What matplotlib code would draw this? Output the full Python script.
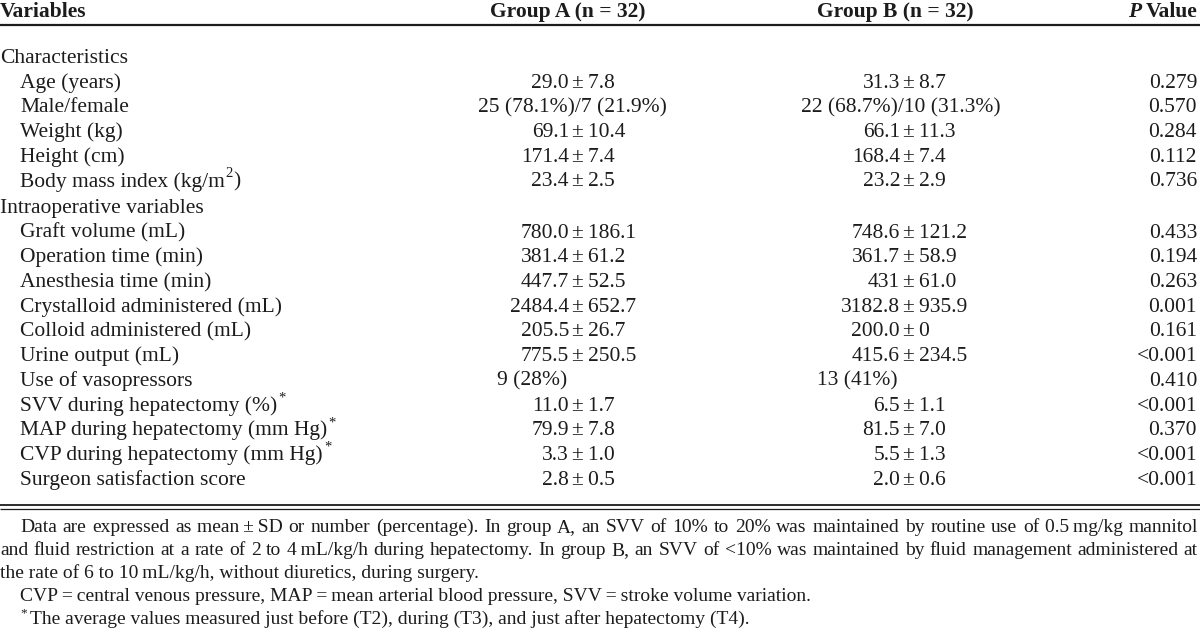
import matplotlib
matplotlib.use('Agg')
import matplotlib.pyplot as plt

plt.rcParams['font.family'] = ['Liberation Serif', 'DejaVu Serif']

TS = '\u2009'
PM = '\u00b1'

# ---------------- data ----------------
headers = ['Variables', 'Group A (n = 32)', 'Group B (n = 32)', 'Value']

variables = ['Characteristics', 'Age (years)', 'Male/female', 'Weight (kg)', 'Height (cm)',
             'Body mass index (kg/m', 'Intraoperative variables', 'Graft volume (mL)',
             'Operation time (min)', 'Anesthesia time (min)', 'Crystalloid administered (mL)',
             'Colloid administered (mL)', 'Urine output (mL)', 'Use of vasopressors',
             'SVV during hepatectomy (%)', 'MAP during hepatectomy (mm Hg)',
             'CVP during hepatectomy (mm Hg)', 'Surgeon satisfaction score']
var_suffix = ['', '', '', '', '', ')', '', '', '', '', '', '', '', '', '', '', '', '']
var_sup = ['', '', '', '', '', '2', '', '', '', '', '', '', '', '', '*', '*', '*', '']
is_section = [True, False, False, False, False, False, True, False, False, False, False,
              False, False, False, False, False, False, False]

group_a = ['', '29.0 ± 7.8', '25 (78.1%)/7 (21.9%)', '69.1 ± 10.4', '171.4 ± 7.4', '23.4 ± 2.5',
           '', '780.0 ± 186.1', '381.4 ± 61.2', '447.7 ± 52.5', '2484.4 ± 652.7', '205.5 ± 26.7',
           '775.5 ± 250.5', '9 (28%)', '11.0 ± 1.7', '79.9 ± 7.8', '3.3 ± 1.0', '2.8 ± 0.5']
group_b = ['', '31.3 ± 8.7', '22 (68.7%)/10 (31.3%)', '66.1 ± 11.3', '168.4 ± 7.4', '23.2 ± 2.9',
           '', '748.6 ± 121.2', '361.7 ± 58.9', '431 ± 61.0', '3182.8 ± 935.9', '200.0 ± 0',
           '415.6 ± 234.5', '13 (41%)', '6.5 ± 1.1', '81.5 ± 7.0', '5.5 ± 1.3', '2.0 ± 0.6']
p_values = ['', '0.279', '0.570', '0.284', '0.112', '0.736', '', '0.433', '0.194', '0.263',
            '0.001', '0.161', '<0.001', '0.410', '<0.001', '0.370', '<0.001', '<0.001']

footnote_justified = [
    'Data are expressed as mean' + TS + '±' + TS + 'SD or number (percentage). In group A, an SVV of 10% to 20% was maintained by routine use of 0.5' + TS + 'mg/kg mannitol',
    'and fluid restriction at a rate of 2 to 4' + TS + 'mL/kg/h during hepatectomy. In group B, an SVV of <10% was maintained by fluid management administered at',
]
footnote_plain = [
    'the rate of 6 to 10' + TS + 'mL/kg/h, without diuretics, during surgery.',
    'CVP' + TS + '=' + TS + 'central venous pressure, MAP' + TS + '=' + TS + 'mean arterial blood pressure, SVV' + TS + '=' + TS + 'stroke volume variation.',
    'The average values measured just before (T2), during (T3), and just after hepatectomy (T4).',
]

# ---------------- layout ----------------
W, H = 1200, 631
FS = 15.5          # table font size (pt)
FFS = 14.0         # footnote font size (pt)
COLOR = '#1c1c1c'

fig = plt.figure(figsize=(W / 100, H / 100), dpi=100)
ax = fig.add_axes([0, 0, 1, 1])
ax.set_xlim(0, W)
ax.set_ylim(H, 0)
ax.axis('off')
renderer = fig.canvas.get_renderer()


def twidth(s, **kw):
    t = ax.text(0, 0, s, **kw)
    w = t.get_window_extent(renderer=renderer).width
    t.remove()
    return w


def put(x, y, s, fs=FS, ha='left', **kw):
    ax.text(x, y, s, fontsize=fs, ha=ha, va='baseline', color=COLOR, **kw)


def put_sup(x, y, s, fs=FS):
    put(x, y - fs * 100 / 72 * 0.42, s, fs=fs * 0.68)


# header
HY = 17
put(0, HY, headers[0], fontweight='bold')
put(490, HY, headers[1], fontweight='bold')
put(817, HY, headers[2], fontweight='bold')
put(1198, HY, headers[3], ha='right', fontweight='bold')
wv = twidth(headers[3], fontsize=FS, fontweight='bold')
put(1198 - wv - 5, HY, 'P', ha='right', fontweight='bold', fontstyle='italic')
ax.plot([0, W], [25, 25], color=COLOR, lw=1.6, solid_capstyle='butt')

PM_A, PM_B = 572, 903
CEN_A, CEN_B = 572.5, 901
LEFT_A, LEFT_B = 497, 817
P_RIGHT = 1197


def put_value(val, y, pm_x, cen_x, left_x):
    if not val:
        return
    if PM in val:
        left, right = [p.strip() for p in val.split(PM)]
        put(pm_x - 3, y, left, ha='right')
        put(pm_x, y, PM + TS + right)
    elif '/' in val:
        put(cen_x, y, val, ha='center')
    else:
        put(left_x, y, val)


for i, name in enumerate(variables):
    y = 63 + 24.7 * i + (1.8 if i >= 6 else 0)
    x = 0 if is_section[i] else 20
    base = name
    put(x, y, base)
    if var_sup[i]:
        w = twidth(base, fontsize=FS)
        if var_suffix[i]:
            put_sup(x + w + 0.5, y, var_sup[i])
            ws = twidth(var_sup[i], fontsize=FS * 0.68)
            put(x + w + ws + 1.5, y, var_suffix[i])
        else:
            put_sup(x + w + 1.5, y, var_sup[i])
    put_value(group_a[i], y, PM_A, CEN_A, LEFT_A)
    put_value(group_b[i], y, PM_B, CEN_B, LEFT_B)
    if p_values[i]:
        put(P_RIGHT, y, p_values[i], ha='right')

# bottom double rule
ax.plot([0, W], [504.5, 504.5], color=COLOR, lw=1.3, solid_capstyle='butt')
ax.plot([0, W], [508.5, 508.5], color=COLOR, lw=0.9, solid_capstyle='butt')

# footnotes
fy = [532, 555, 578, 601, 624]


def justified(line, x0, x1, y, fs):
    words = line.split(' ')
    widths = [twidth(wd, fontsize=fs) for wd in words]
    gap = (x1 - x0 - sum(widths)) / (len(words) - 1)
    x = x0
    for wd, w in zip(words, widths):
        put(x, y, wd, fs=fs)
        x += w + gap


justified(footnote_justified[0], 20, 1198, fy[0], FFS)
justified(footnote_justified[1], 0, 1198, fy[1], FFS)
put(0, fy[2], footnote_plain[0], fs=FFS)
put(20, fy[3], footnote_plain[1], fs=FFS)
put_sup(20, fy[4], '*', fs=FFS)
put(30, fy[4], footnote_plain[2], fs=FFS)

fig.savefig('out.png', dpi=100, facecolor='white')
